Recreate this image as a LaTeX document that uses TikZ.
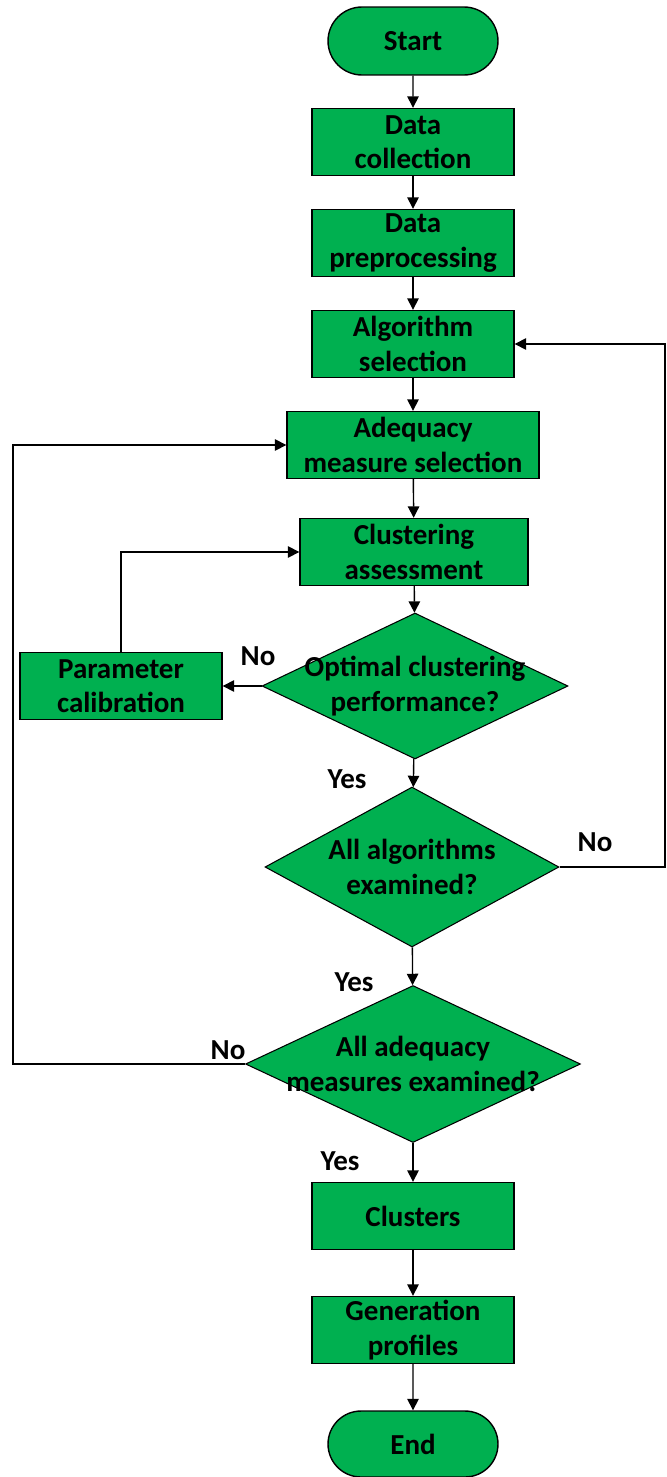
\documentclass[tikz,border=0pt]{standalone}
\usepackage{fontspec}
\setmainfont{Carlito}
\usetikzlibrary{shapes.geometric,shapes.misc,arrows.meta}
\definecolor{boxgreen}{RGB}{0,176,80}
\tikzset{
  process/.style={draw=black, fill=boxgreen, line width=0.8pt, inner sep=0pt,
    minimum width=4.04cm, minimum height=1.34cm, align=center,
    font=\fontsize{16.5}{19.5}\selectfont\bfseries},
  terminal/.style={process, rounded rectangle, minimum width=3.4cm, minimum height=1.36cm},
  decision/.style={draw=black, fill=boxgreen, line width=0.6pt, diamond, inner sep=0pt},
  flow/.style={line width=0.8pt, -{Triangle[length=6.5pt,width=6.5pt]}},
  answer/.style={font=\fontsize{16.5}{19.5}\selectfont\bfseries, align=center}
}
\begin{document}
\begin{tikzpicture}[x=0.02cm, y=-0.02cm]
  \useasboundingbox (0,0) rectangle (666,1477);

  % Main column of steps
  \node [terminal] (start) at (413,41) {Start};
  \node [process] (collect) at (413,142) {Data\\collection};
  \node [process] (prep) at (413,243) {Data\\preprocessing};
  \node [process] (algsel) at (413,344) {Algorithm\\selection};
  \node [process, minimum width=5.04cm] (adeq) at (413,445) {Adequacy\\measure selection};
  \node [process, minimum width=4.56cm] (assess) at (414,552) {Clustering\\assessment};

  % Decisions
  \node [decision, minimum width=6.12cm, minimum height=2.92cm,
    label={[answer]center:Optimal clustering\\performance?}] (opt) at (415,686) {};
  \node [decision, minimum width=5.88cm, minimum height=3.2cm,
    label={[answer]center:All algorithms\\examined?}] (allalg) at (412,867) {};
  \node [decision, minimum width=6.7cm, minimum height=3.14cm,
    label={[answer]center:All adequacy\\measures examined?}] (allmeas) at (413,1064) {};

  \node [process] (calib) at (121,686) {Parameter\\calibration};

  % Final steps
  \node [process] (clusters) at (413,1216) {Clusters};
  \node [process] (profiles) at (413,1330) {Generation\\profiles};
  \node [terminal, minimum height=1.32cm] (stop) at (413,1444) {End};

  % Straight connections
  \draw [flow] (start) -- (collect);
  \draw [flow] (collect) -- (prep);
  \draw [flow] (prep) -- (algsel);
  \draw [flow] (algsel) -- (adeq);
  \draw [flow] (adeq) -- (assess);
  \draw [flow] (assess) -- (opt);
  \draw [flow] (opt) -- (allalg);
  \draw [flow] (allalg) -- (allmeas);
  \draw [flow] (allmeas) -- (clusters);
  \draw [flow] (clusters) -- (profiles);
  \draw [flow] (profiles) -- (stop);

  % Loops back
  \coordinate (rightrail) at (665,0);
  \coordinate (leftrail) at (13,0);
  \draw [flow] (opt.west) -- (calib.east);
  \draw [flow] (calib.north) |- (assess.west);
  \draw [flow] (allalg.east) -- (allalg.east -| rightrail) |- (algsel.east);
  \draw [flow] (allmeas.west) -- (allmeas.west -| leftrail) |- (adeq.west);

  % Answers
  \node [answer] (no1) at (258,656) {No};
  \node [answer] (yes1) at (347,779) {Yes};
  \node [answer] (no2) at (595,842) {No};
  \node [answer] (yes2) at (354,982) {Yes};
  \node [answer] (no3) at (228,1050) {No};
  \node [answer] (yes3) at (340,1161) {Yes};
\end{tikzpicture}
\end{document}
